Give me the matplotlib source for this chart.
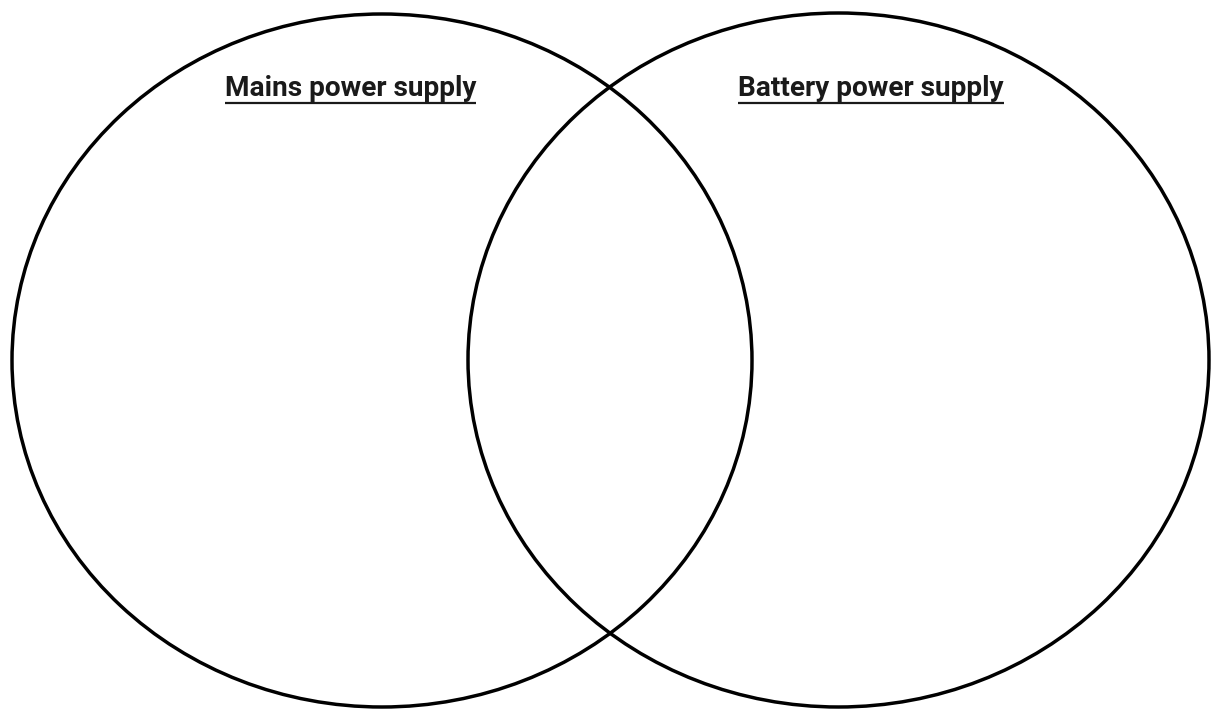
import matplotlib
matplotlib.use("Agg")
import matplotlib.pyplot as plt
from matplotlib.patches import Ellipse

# Data
set_labels = ["Mains power supply", "Battery power supply"]

# Layout (pixel coordinates)
W, H = 1213, 710
centers = [(382, 360.5), (838.5, 360)]
radii = [(370, 346.5), (370.5, 347)]
label_pos = [(350.5, 88), (871, 88)]

fig = plt.figure(figsize=(W / 100, H / 100), dpi=100)
ax = fig.add_axes([0, 0, 1, 1])
ax.set_xlim(0, W)
ax.set_ylim(H, 0)
ax.axis("off")

for (cx, cy), (rx, ry) in zip(centers, radii):
    ax.add_patch(Ellipse((cx, cy), 2 * rx, 2 * ry, fill=False,
                         edgecolor="black", linewidth=2.5))

texts = []
for lab, (x, y) in zip(set_labels, label_pos):
    t = ax.text(x, y, lab, ha="center", va="center", fontsize=20.2,
                fontweight="bold", family=["Roboto", "DejaVu Sans"],
                color="#1a1a1a")
    texts.append(t)

fig.canvas.draw()
renderer = fig.canvas.get_renderer()
inv = ax.transData.inverted()
for t in texts:
    bb = t.get_window_extent(renderer)
    (x0, _), (x1, _) = inv.transform([(bb.x0, bb.y0), (bb.x1, bb.y0)])
    ax.plot([x0, x1], [103, 103], color="#1a1a1a", linewidth=1.6,
            solid_capstyle="butt")

fig.savefig("out.png", dpi=100)
